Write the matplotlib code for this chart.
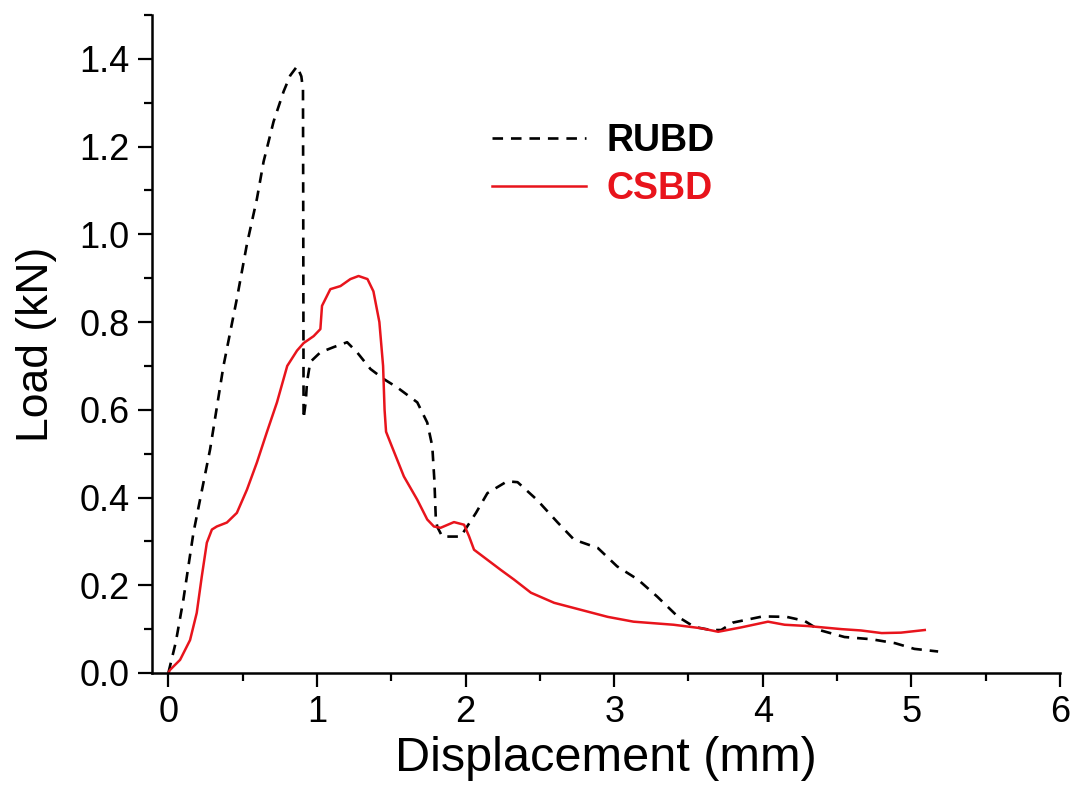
import matplotlib
matplotlib.use("Agg")
import matplotlib.pyplot as plt
from matplotlib.ticker import MultipleLocator

plt.rcParams['font.family'] = ['Liberation Sans', 'DejaVu Sans']

# RUBD (dashed black) - displacement (mm), load (kN)
rubd_x = [0, 0.05, 0.101, 0.169, 0.281, 0.371, 0.461, 0.529, 0.596, 0.641,
          0.708, 0.776, 0.82, 0.866, 0.895, 0.906, 0.908, 0.91, 0.925, 0.933,
          0.955, 1.023, 1.113, 1.203, 1.27, 1.36, 1.45, 1.54, 1.675, 1.742,
          1.776, 1.79, 1.80, 1.81, 1.843, 1.967, 2.07, 2.147, 2.28, 2.35,
          2.48, 2.62, 2.73, 2.89, 3.02, 3.16, 3.29, 3.43, 3.54, 3.65,
          3.72, 3.80, 4.0, 4.16, 4.28, 4.38, 4.55, 4.73, 4.89, 5.02, 5.18]
rubd_y = [0, 0.07, 0.167, 0.32, 0.51, 0.70, 0.853, 0.978, 1.081, 1.166,
          1.257, 1.326, 1.362, 1.383, 1.36, 1.33, 1.0, 0.58, 0.62, 0.663,
          0.709, 0.731, 0.743, 0.754, 0.731, 0.693, 0.67, 0.651, 0.617, 0.571,
          0.517, 0.44, 0.35, 0.333, 0.311, 0.311, 0.365, 0.41, 0.437, 0.435,
          0.395, 0.343, 0.304, 0.285, 0.243, 0.213, 0.174, 0.128, 0.105, 0.098,
          0.098, 0.115, 0.129, 0.128, 0.119, 0.098, 0.082, 0.077, 0.068, 0.055, 0.049]

# CSBD (solid red)
csbd_x = [0, 0.011, 0.079, 0.146, 0.191, 0.225, 0.259, 0.293, 0.326, 0.394,
          0.461, 0.529, 0.596, 0.663, 0.731, 0.80, 0.866, 0.91, 0.978, 1.023,
          1.034, 1.09, 1.158, 1.225, 1.28, 1.34, 1.38, 1.42, 1.445, 1.455,
          1.465, 1.50, 1.585, 1.675, 1.742, 1.787, 1.832, 1.922, 1.99, 2.023,
          2.057, 2.147, 2.237, 2.326, 2.44, 2.596, 2.776, 2.956, 3.13, 3.40,
          3.585, 3.70, 3.855, 4.035, 4.147, 4.305, 4.53, 4.66, 4.80, 4.93, 5.09]
csbd_y = [0, 0.007, 0.03, 0.075, 0.137, 0.22, 0.297, 0.327, 0.334, 0.343,
          0.365, 0.418, 0.48, 0.549, 0.617, 0.70, 0.735, 0.752, 0.768, 0.784,
          0.837, 0.875, 0.882, 0.898, 0.905, 0.898, 0.87, 0.80, 0.70, 0.60,
          0.55, 0.52, 0.448, 0.395, 0.35, 0.334, 0.331, 0.344, 0.338, 0.312,
          0.281, 0.258, 0.235, 0.213, 0.183, 0.16, 0.144, 0.128, 0.117, 0.11,
          0.102, 0.094, 0.104, 0.117, 0.11, 0.107, 0.10, 0.097, 0.091, 0.092, 0.098]

x_ticks = [0, 1, 2, 3, 4, 5, 6]
y_ticks = [0.0, 0.2, 0.4, 0.6, 0.8, 1.0, 1.2, 1.4]

fig = plt.figure(figsize=(10.75, 7.85), dpi=100)
ax = fig.add_axes([152 / 1075, 112 / 785, 908 / 1075, 658 / 785])

ax.plot(rubd_x, rubd_y, color='black', lw=1.9, dashes=(4, 3), label='RUBD')
ax.plot(csbd_x, csbd_y, color='#e8141c', lw=1.8, label='CSBD')

ax.set_xlim(-0.11, 6)
ax.set_ylim(0, 1.5)
ax.set_xticks(x_ticks)
ax.set_xticklabels([str(t) for t in x_ticks])
ax.set_yticks(y_ticks)
ax.set_yticklabels([f"{t:.1f}" for t in y_ticks])
ax.xaxis.set_minor_locator(MultipleLocator(0.5))
ax.yaxis.set_minor_locator(MultipleLocator(0.1))

for side in ['top', 'right']:
    ax.spines[side].set_visible(False)
for side in ['left', 'bottom']:
    ax.spines[side].set_linewidth(1.8)

ax.tick_params(which='major', direction='out', length=10, width=1.6,
               labelsize=26, pad=6)
ax.tick_params(which='minor', direction='out', length=6, width=1.6)

ax.set_xlabel('Displacement (mm)', fontsize=35)
ax.set_ylabel('Load (kN)', fontsize=32)
ax.xaxis.set_label_coords(0.5, -0.095)
ax.yaxis.set_label_coords(-0.105, 0.5)

leg = ax.legend(loc='center left', bbox_to_anchor=(492 / 1075, 1 - 165 / 785),
                bbox_transform=fig.transFigure, frameon=False,
                prop={'size': 27, 'weight': 'bold'}, handlelength=2.5,
                handletextpad=0.55, labelspacing=0.3, borderpad=0,
                borderaxespad=0)
for txt, col in zip(leg.get_texts(), ['black', '#e8141c']):
    txt.set_color(col)

fig.savefig('out.png', dpi=100)
